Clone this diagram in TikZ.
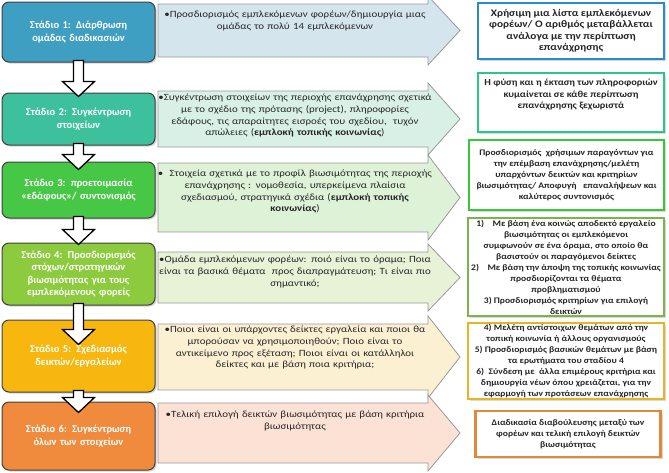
\documentclass[tikz,border=0pt]{standalone}
\usepackage{fontspec}
\setmainfont{Carlito}
\newfontfamily\infofont{Carlito}[FakeStretch=1.15]
\newfontfamily\notefont{Carlito}[FakeStretch=1.13]
\usepackage{xcolor}
\usetikzlibrary{calc, shadows}

\definecolor{stA}{HTML}{3F9FC3}
\definecolor{stB}{HTML}{3CC19C}
\definecolor{stC}{HTML}{46C846}
\definecolor{stD}{HTML}{8DCB3E}
\definecolor{stE}{HTML}{F7B70F}
\definecolor{stF}{HTML}{F08B3D}
\definecolor{arA}{HTML}{D5E5EE}
\definecolor{arB}{HTML}{D9F0E7}
\definecolor{arC}{HTML}{DDF2D7}
\definecolor{arD}{HTML}{E7F2D7}
\definecolor{arE}{HTML}{FBF0D2}
\definecolor{arF}{HTML}{FBE2D4}
\definecolor{bdA}{HTML}{2A8BCB}
\definecolor{bdB}{HTML}{2DC48B}
\definecolor{bdC}{HTML}{38C738}
\definecolor{bdD}{HTML}{7BB44A}
\definecolor{bdE}{HTML}{E8B425}
\definecolor{bdF}{HTML}{E0893A}

%% white block arrow from one stage down to the next (#3 = how far the tip goes in)
\newcommand{\stagearrow}[3]{%
  \draw[varr] ($(#1.south)+(-5,-2)$) -- ($(#2.north)+(-5,#3-15)$) -- ++(-11,0)
    -- ($(#2.north)+(0,#3)$) -- ($(#2.north)+(16,#3-15)$) -- ++(-11,0)
    -- ($(#1.south)+(5,-2)$) -- cycle;}

%% wide arrow behind the description of a stage: #1 top, #2 bottom, #3 fill
\newcommand{\bigarrow}[3]{%
  \draw[barr, fill=#3] (158,#1) -- (428,#1) -- (428,#1-8) -- (460,{(#1+#2)/2})
    -- (428,#2+8) -- (428,#2) -- (158,#2) -- cycle;}

\begin{document}
\begin{tikzpicture}[x=1pt, y=-1pt,
  stage/.style={draw=black!75, line width=1pt, rounded corners=7pt,
                minimum width=153pt, text width=145pt, align=center,
                text=white, font=\fontsize{10.5}{12.5}\selectfont\bfseries,
                drop shadow={shadow xshift=1.5pt, shadow yshift=-1.5pt, opacity=0.35}},
  info/.style={anchor=north, text width=290pt, align=center, inner sep=0pt,
               font=\infofont\fontsize{9.5}{11.7}\selectfont, text=black!85},
  note/.style={draw, line width=2.6pt, fill=white, align=center, inner sep=1pt,
               font=\notefont\fontsize{8.5}{11}\selectfont\bfseries, text=black!85,
               drop shadow={shadow xshift=2pt, shadow yshift=-2pt, opacity=0.3}},
  bignote/.style={note, font=\notefont\fontsize{9.2}{11.5}\selectfont\bfseries},
  varr/.style={draw=black, line width=1.3pt, fill=white},
  barr/.style={draw=black!40, line width=0.8pt}
]
\clip (0,0) rectangle (669,472);

%% Wide arrows with the content of each stage
\bigarrow{4}{57}{arA}
\bigarrow{91}{147}{arB}
\bigarrow{163}{232}{arC}
\bigarrow{252}{303}{arD}
\bigarrow{324}{390}{arE}
\bigarrow{403}{463}{arF}

\node[info] (i1) at (295,11) {•Προσδιορισμός εμπλεκόμενων φορέων/δημιουργία μιας\\
  ομάδας το πολύ 14 εμπλεκόμενων};
\node[info] (i2) at (295,94) {•Συγκέντρωση στοιχείων της περιοχής επανάχρησης σχετικά\\
  με το σχέδιο της πρότασης (project), πληροφορίες\\
  εδάφους, τις απαραίτητες εισροές του σχεδίου,\ \ τυχόν\\
  απώλειες (\textbf{εμπλοκή τοπικής κοινωνίας})};
\node[info] (i3) at (295,170) {•\ \ Στοιχεία σχετικά με το προφίλ βιωσιμότητας της περιοχής\\
  επανάχρησης : νομοθεσία, υπερκείμενα πλαίσια\\
  σχεδιασμού, στρατηγικά σχέδια (\textbf{εμπλοκή τοπικής}\\
  \textbf{κοινωνίας})};
\node[info] (i4) at (295,256) {•Ομάδα εμπλεκόμενων φορέων: ποιό είναι το όραμα; Ποια\\
  είναι τα βασικά θέματα\ \ προς διαπραγμάτευση; Τι είναι πιο\\
  σημαντικό;};
\node[info] (i5) at (295,326) {•Ποιοι είναι οι υπάρχοντες δείκτες εργαλεία και ποιοι θα\\
  μπορούσαν να χρησιμοποιηθούν; Ποιο είναι το\\
  αντικείμενο προς εξέταση; Ποιοι είναι οι κατάλληλοι\\
  δείκτες και με βάση ποια κριτήρια;};
\node[info] (i6) at (295,411) {•Τελική επιλογή δεικτών βιωσιμότητας με βάση κριτήρια\\
  βιωσιμότητας};

%% Stages
\node[stage, fill=stA, minimum height=60pt] (s1) at (78.5,32) {Στάδιο 1: Διάρθρωση\\ ομάδας διαδικασιών};
\node[stage, fill=stB, minimum height=52pt] (s2) at (78.5,119) {Στάδιο 2: Συγκέντρωση\\ στοιχείων};
\node[stage, fill=stC, minimum height=56pt] (s3) at (78.5,190) {Στάδιο 3: προετοιμασία\\ «εδάφους»/ συντονισμός};
\node[stage, fill=stD, minimum height=62pt] (s4) at (78.5,274) {Στάδιο 4: Προσδιορισμός\\ στόχων/στρατηγικών\\ βιωσιμότητας για τους\\ εμπλεκόμενους φορείς};
\node[stage, fill=stE, minimum height=72pt] (s5) at (78.5,356) {Στάδιο 5: Σχεδιασμός\\ δεικτών/εργαλείων};
\node[stage, fill=stF, minimum height=68pt] (s6) at (78.5,436) {Στάδιο 6: Συγκέντρωση\\ όλων των στοιχείων};

%% Flow between the stages
\stagearrow{s1}{s2}{4}
\stagearrow{s2}{s3}{8}
\stagearrow{s3}{s4}{2}
\stagearrow{s4}{s5}{25}
\stagearrow{s5}{s6}{11}

%% Notes on the right
\node[bignote, draw=bdA, minimum width=186pt, minimum height=56pt,
      font=\notefont\fontsize{10}{11.5}\selectfont\bfseries] (n1) at (571,31)
  {Χρήσιμη μια λίστα εμπλεκόμενων\\ φορέων/ Ο αριθμός μεταβάλλεται\\
   ανάλογα με την περίπτωση\\ επανάχρησης};
\node[bignote, draw=bdB, minimum width=186pt, minimum height=59pt] (n2) at (571,102.5)
  {Η φύση και η έκταση των πληροφοριών\\ κυμαίνεται σε κάθε περίπτωση\\
   επανάχρησης ξεχωριστά\\[6pt]};
\node[note, draw=bdC, minimum width=195pt, minimum height=70pt] (n3) at (566.5,175)
  {Προσδιορισμός\ \ χρήσιμων παραγόντων για\\ την επέμβαση επανάχρησης/μελέτη\\
   υπαρχόντων δεικτών και κριτηρίων\\ βιωσιμότητας/ Αποφυγή\ \ \ επαναλήψεων και\\
   καλύτερος συντονισμός};
\node[note, draw=bdD, minimum width=196pt, minimum height=98pt] (n4) at (566,267)
  {1)\quad Με βάση ένα κοινώς αποδεκτό εργαλείο\\ βιωσιμότητας οι εμπλεκόμενοι\\
   συμφωνούν σε ένα όραμα, στο οποίο θα\\ βασιστούν οι παραγόμενοι δείκτες\\
   2)\quad Με βάση την άποψη της τοπικής κοινωνίας\\ προσδιορίζονται τα θέματα\\
   προβληματισμού\\ 3) Προσδιορισμός κριτηρίων για επιλογή\\ δεικτών};
\node[note, draw=bdE, minimum width=196pt, minimum height=74pt] (n5) at (566,361)
  {4) Μελέτη αντίστοιχων θεμάτων από την\\ τοπική κοινωνία ή άλλους οργανισμούς\\
   5) Προσδιορισμός βασικών θεμάτων με βάση\\ τα ερωτήματα του σταδίου 4\\
   6)\ \ Σύνδεση με\ \ άλλα επιμέρους κριτήρια και\\ δημιουργία νέων όπου χρειάζεται, για την\\
   εφαρμογή των προτάσεων επανάχρησης};
\node[note, draw=bdF, minimum width=185pt, minimum height=46pt] (n6) at (568,434)
  {Διαδικασία διαβούλευσης μεταξύ των\\ φορέων και τελική επιλογή δεικτών\\ βιωσιμότητας};
\end{tikzpicture}
\end{document}
